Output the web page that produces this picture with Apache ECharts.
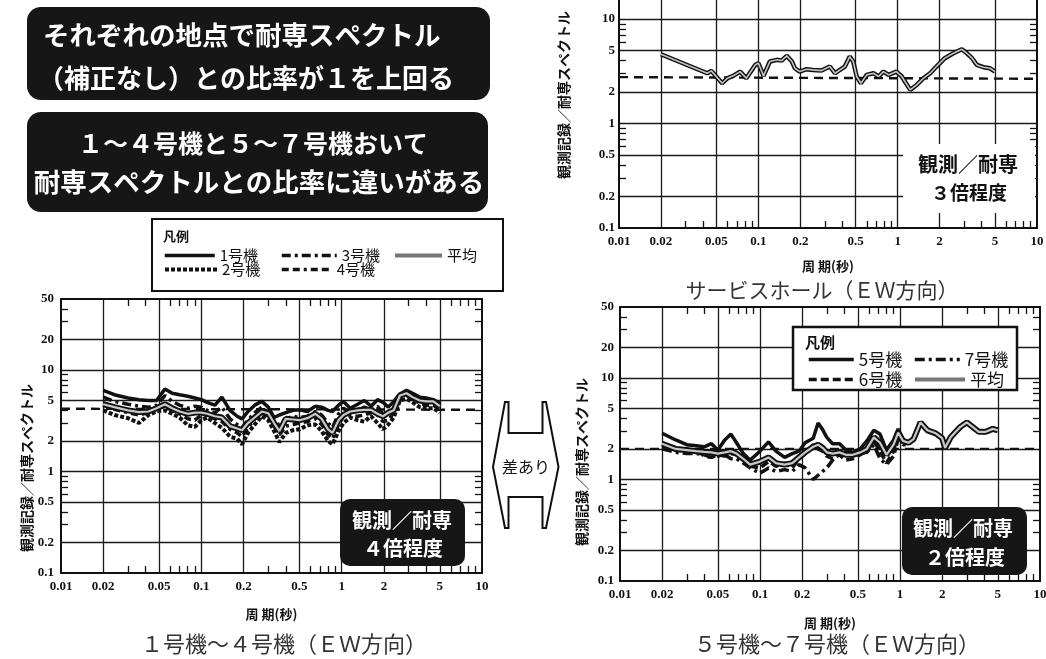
<!DOCTYPE html>
<html><head><meta charset="utf-8">
<script src="https://cdn.jsdelivr.net/npm/echarts@6/dist/echarts.min.js"></script>
<style>html,body{margin:0;padding:0;background:#fff}#c{width:1046px;height:659px}</style>
</head><body><div id="c"></div>
<script>
// ---- tick labels / tick positions ----
const xTickLabels = [0.01, 0.02, 0.05, 0.1, 0.2, 0.5, 1, 2, 5, 10];
const yTickLabels = [0.1, 0.2, 0.5, 1, 2, 5, 10, 20, 50];
const xMinorTicks = [0.03, 0.04, 0.06, 0.07, 0.08, 0.09, 0.3, 0.4, 0.6, 0.7, 0.8, 0.9, 3, 4, 6, 7, 8, 9];
const yMinorTicks = [0.3, 0.4, 0.6, 0.7, 0.8, 0.9, 3, 4, 6, 7, 8, 9, 30, 40];
const xGridValues = [0.02, 0.05, 0.1, 0.2, 0.5, 1, 2, 5];
const yGridValues = [0.2, 0.5, 1, 2, 5, 10, 20];

// ---- サービスホール (EW) ----
const periodsSH = [0.02,0.043,0.046,0.055,0.06,0.066,0.074,0.082,0.095,0.1,0.109,0.121,0.136,0.147,0.16,0.174,0.183,0.198,0.222,0.247,0.284,0.326,0.355,0.418,0.453,0.48,0.508,0.545,0.6,0.67,0.73,0.79,0.86,0.98,1.07,1.23,1.37,1.53,1.71,1.9,2.18,2.51,2.89,3.14,3.42,3.7,4.13,4.6,5.0];
const ratioSH = [4.6,3.03,3.19,2.43,2.71,2.86,3.14,2.71,3.64,3.78,2.86,3.92,4.07,4.0,4.44,3.92,3.38,3.14,3.31,3.26,3.21,3.51,3.03,3.51,4.37,3.92,2.82,2.43,2.92,3.03,2.82,3.14,2.92,3.14,2.82,2.10,2.34,2.71,3.03,3.51,4.22,4.7,5.13,4.7,4.22,3.64,3.46,3.38,3.14];
const refPeriods = [0.01, 10];
const refSH = [2.78, 2.68];

// ---- 1号機〜4号機 (EW) ----
const periodsU14 = [0.02,0.024,0.03,0.036,0.042,0.048,0.055,0.062,0.07,0.08,0.09,0.1,0.11,0.125,0.14,0.16,0.18,0.195,0.215,0.24,0.27,0.3,0.33,0.36,0.4,0.45,0.5,0.57,0.65,0.72,0.8,0.86,0.95,1.03,1.15,1.3,1.45,1.62,1.8,1.97,2.15,2.35,2.6,2.9,3.2,3.6,4.0,4.5,5.0];
const unit1 = [6.3,5.7,5.3,5.1,5.0,5.0,6.5,5.9,5.7,5.5,5.3,5.1,4.8,4.5,5.4,4.0,3.5,3.3,3.9,4.5,4.9,4.3,3.4,3.6,3.8,4.0,4.05,3.9,4.4,4.3,4.0,3.9,4.5,4.9,4.2,4.6,5.0,4.4,5.1,4.8,4.3,4.9,5.8,6.3,5.9,5.4,5.3,5.1,4.7];
const unit2 = [4.0,3.6,3.35,3.0,3.6,3.9,4.0,3.7,3.4,2.85,2.75,3.2,3.4,3.0,2.7,2.2,2.1,1.85,2.4,2.9,3.5,3.2,2.5,1.95,2.4,2.55,2.6,2.85,2.9,2.5,2.0,1.85,2.5,3.0,3.4,3.2,3.1,3.5,3.0,2.6,2.9,3.4,5.0,5.2,4.8,4.3,4.2,4.2,3.8];
const unit3 = [5.4,4.9,4.6,4.4,4.3,4.5,5.6,4.9,4.5,4.2,4.4,4.3,4.0,3.8,4.3,3.3,2.9,2.7,3.2,3.8,4.3,3.8,3.0,2.9,3.3,3.5,3.4,3.5,3.9,3.6,3.0,2.7,3.7,4.2,3.8,4.0,4.3,4.0,4.4,3.7,3.7,4.2,5.5,6.0,5.6,5.0,4.9,4.8,4.4];
const unit4 = [4.5,4.1,3.8,3.6,3.8,4.1,4.4,4.0,3.7,3.3,3.2,3.6,3.6,3.3,3.1,2.6,2.4,2.2,2.7,3.3,3.8,3.5,2.8,2.3,2.8,2.9,3.0,3.1,3.3,2.9,2.3,2.1,2.9,3.5,3.6,3.5,3.6,3.8,3.6,3.1,3.2,3.8,5.2,5.6,5.2,4.7,4.5,4.5,4.1];
const avg14 = [4.6,4.3,4.0,3.85,3.9,4.2,4.6,4.2,3.9,3.7,3.8,3.8,3.7,3.5,3.4,2.8,2.65,2.55,3.0,3.4,3.9,3.75,3.0,2.5,3.3,3.25,3.2,3.35,3.7,3.3,2.6,2.4,3.2,3.6,3.9,4.0,4.05,4.05,3.7,3.5,3.8,4.0,5.6,5.9,5.4,5.0,4.9,4.9,4.4];
const ref14 = [4.15, 4.05];

// ---- 5号機〜7号機 (EW) ----
const periodsU57 = [0.02,0.025,0.03,0.035,0.04,0.045,0.05,0.056,0.062,0.068,0.076,0.085,0.1,0.115,0.13,0.15,0.17,0.19,0.21,0.24,0.26,0.28,0.3,0.33,0.37,0.41,0.46,0.52,0.58,0.65,0.72,0.8,0.9,0.97,1.05,1.15,1.25,1.4,1.57,1.8,2.0,2.1,2.3,2.5,2.7,3.0,3.3,3.65,4.1,4.6,5.0];
const unit5 = [2.85,2.45,2.2,2.15,2.1,2.25,1.95,2.45,2.8,2.3,1.8,1.55,1.9,2.35,1.9,1.65,1.8,1.9,2.3,2.55,3.6,3.1,2.6,2.25,2.25,1.95,1.85,2.0,2.4,3.05,2.8,1.95,2.45,3.15,2.5,2.3];
const unit6 = [2.1,1.95,1.9,1.95,1.7,1.65,1.75,1.7,1.8,1.75,1.55,1.35,1.3,1.5,1.35,1.45,1.3,1.6,1.8,2.2,2.0,1.9,1.7,1.6,1.75,1.55,1.6,1.75,1.9,2.4,1.9,1.45,1.9,2.7,2.3,2.25];
const unit7 = [2.0,1.85,1.8,1.8,1.75,1.65,1.7,1.75,1.6,1.6,1.45,1.3,1.15,1.3,1.2,1.25,1.2,1.4,1.3,1.0,1.1,1.2,1.3,1.55,1.9,1.8,1.7,1.8,1.85,2.2,1.6,1.4,1.7,2.5,2.2,2.2];
const avg57 = [2.25,2.0,1.95,1.9,1.87,1.85,1.8,1.85,1.9,1.8,1.6,1.4,1.5,1.65,1.45,1.4,1.45,1.65,1.85,2.1,2.2,2.05,1.85,1.8,1.85,1.75,1.75,1.85,2.0,2.6,2.3,1.75,2.2,2.9,2.4,2.3,2.5,3.65,3.05,2.85,2.55,2.05,2.6,2.95,3.3,3.65,3.3,2.95,2.95,3.15,3.05];
const ref57 = [2.0, 2.0];

// ---------------------------------------------------------------
const JP = 'Noto Sans CJK JP';
const INK = '#111';
const labelFont = {fontFamily: 'Liberation Serif', fontWeight: 'bold', fontSize: 13, color: INK};

function zip(periods, vals) { return vals.map((v, i) => [periods[i], v]); }

function xAxes(g, nameGap) {
  const base = {type: 'log', logBase: 10, gridIndex: g, min: 0.01, max: 10};
  const line = {show: true, onZero: false, lineStyle: {color: INK, width: 2}};
  const minor = {show: true, inside: true, length: 7, customValues: xMinorTicks, lineStyle: {color: INK, width: 1.3}};
  return [
    Object.assign({}, base, {position: 'bottom', axisLine: line, axisTick: minor,
      axisLabel: Object.assign({show: true, customValues: xTickLabels, formatter: v => String(+(+v).toPrecision(6)), margin: 7}, labelFont),
      splitLine: {show: false}, name: '周 期(秒)', nameLocation: 'middle', nameGap: nameGap,
      nameTextStyle: {fontFamily: JP, fontSize: 13, fontWeight: 'bold', color: INK}}),
    Object.assign({}, base, {position: 'top', axisLine: line, axisTick: minor, axisLabel: {show: false}, splitLine: {show: false}}),
    Object.assign({}, base, {position: 'bottom', axisLine: {show: false}, axisTick: {show: false, customValues: xGridValues},
      axisLabel: {show: false}, splitLine: {show: true, lineStyle: {color: '#1a1a1a', width: 1.3}}})
  ];
}
function yAxes(g, margin) {
  const base = {type: 'log', logBase: 10, gridIndex: g, min: 0.1, max: 50};
  const line = {show: true, onZero: false, lineStyle: {color: INK, width: 2}};
  const minor = {show: true, inside: true, length: 7, customValues: yMinorTicks, lineStyle: {color: INK, width: 1.3}};
  return [
    Object.assign({}, base, {position: 'left', axisLine: line, axisTick: minor,
      axisLabel: Object.assign({show: true, customValues: yTickLabels, formatter: v => String(+(+v).toPrecision(6)), margin: margin}, labelFont),
      splitLine: {show: false}}),
    Object.assign({}, base, {position: 'right', axisLine: line, axisTick: minor, axisLabel: {show: false}, splitLine: {show: false}}),
    Object.assign({}, base, {position: 'left', axisLine: {show: false}, axisTick: {show: false, customValues: yGridValues},
      axisLabel: {show: false}, splitLine: {show: true, lineStyle: {color: '#1a1a1a', width: 1.3}}})
  ];
}
function line(name, g, data, style, z) {
  return {type: 'line', name: name, xAxisIndex: g * 3, yAxisIndex: g * 3, data: data, symbol: 'none',
    showSymbol: false, lineStyle: Object.assign({color: INK, width: 2.5}, style), z: z, silent: true,
    animation: false, clip: true, emphasis: {disabled: true}};
}
function legendItem(name, left, top, w, fs, extra) {
  return {show: true, data: [extra ? Object.assign({name: name}, extra) : name], left: left, top: top,
    orient: 'horizontal', itemWidth: w, itemHeight: 14, padding: 0, selectedMode: false, z: 120,
    lineStyle: {width: 'inherit'}, itemStyle: {opacity: 0},
    textStyle: {fontFamily: JP, fontSize: fs, color: INK}};
}
function txt(text, x, y, fs, opts) {
  return Object.assign({type: 'text', x: x, y: y, z: 130, silent: true,
    style: Object.assign({text: text, fontFamily: JP, fontSize: fs, fill: INK, align: 'center', verticalAlign: 'middle'}, (opts && opts.style) || {})},
    opts && opts.rotation ? {rotation: opts.rotation} : {});
}

const avgLegend = {lineStyle: {color: '#777', width: 4, type: 'solid'}};

const option = {
  animation: false,
  backgroundColor: '#fff',
  grid: [
    {left: 619, top: -54, width: 418, height: 282, outerBoundsMode: 'none', containLabel: false},
    {left: 61, top: 299, width: 421, height: 274, outerBoundsMode: 'none', containLabel: false},
    {left: 620, top: 307, width: 420, height: 274, outerBoundsMode: 'none', containLabel: false}
  ],
  xAxis: [].concat(xAxes(0, 32), xAxes(1, 35), xAxes(2, 36)),
  yAxis: [].concat(yAxes(0, 4), yAxes(1, 7), yAxes(2, 6)),
  legend: [
    legendItem('1号機', 163, 248, 50, 15),
    legendItem('3号機', 280, 248, 55, 15),
    legendItem('平均', 393, 248, 47, 15, avgLegend),
    legendItem('2号機', 163, 262, 52, 15),
    legendItem('4号機', 280, 262, 50, 15),
    legendItem('5号機', 807, 351, 45, 17),
    legendItem('7号機', 913, 351, 45, 17),
    legendItem('6号機', 807, 371, 45, 17),
    legendItem('平均', 913, 371, 50, 17, avgLegend)
  ],
  series: [
    // サービスホール
    line('耐専比SH', 0, zip(refPeriods, refSH), {type: [9, 6], width: 2.4}, 2),
    line('SH', 0, zip(periodsSH, ratioSH), {width: 4.5}, 4),
    line('SH平均', 0, zip(periodsSH, ratioSH), {color: '#c4c4c4', width: 1.6}, 5),
    // 1〜4号機
    line('耐専比14', 1, zip(refPeriods, ref14), {type: [9, 6], width: 2.4}, 2),
    line('1号機', 1, zip(periodsU14, unit1), {width: 3.5}, 3),
    line('2号機', 1, zip(periodsU14, unit2), {type: [4, 2], width: 4}, 3),
    line('3号機', 1, zip(periodsU14, unit3), {type: [9, 4, 3, 4], width: 3.5}, 3),
    line('4号機', 1, zip(periodsU14, unit4), {type: [7, 4, 7, 4, 3, 4], width: 3.5}, 3),
    line('平均', 1, zip(periodsU14, avg14), {width: 6}, 4),
    line('平均', 1, zip(periodsU14, avg14), {color: '#c8c8c8', width: 2.2}, 5),
    // 5〜7号機
    line('耐専比57', 2, zip(refPeriods, ref57), {type: [9, 6], width: 2.4}, 2),
    line('5号機', 2, zip(periodsU57, unit5), {width: 3.5}, 3),
    line('6号機', 2, zip(periodsU57, unit6), {type: [8, 4], width: 3.5}, 3),
    line('7号機', 2, zip(periodsU57, unit7), {type: [10, 4, 3, 4], width: 3.5}, 3),
    line('平均', 2, zip(periodsU57, avg57), {width: 6}, 4),
    line('平均', 2, zip(periodsU57, avg57), {color: '#c8c8c8', width: 2.2}, 5)
  ],
  graphic: {elements: [
    // headline boxes
    {type: 'rect', z: 100, silent: true, shape: {x: 27, y: 7, width: 463, height: 93, r: 14}, style: {fill: '#161616'}},
    txt('それぞれの地点で耐専スペクトル', 43, 35, 26.5, {style: {fill: '#fff', fontWeight: 'bold', align: 'left'}}),
    txt('（補正なし）との比率が１を上回る', 38, 78, 26, {style: {fill: '#fff', fontWeight: 'bold', align: 'left'}}),
    {type: 'rect', z: 100, silent: true, shape: {x: 27, y: 112, width: 461, height: 100, r: 14}, style: {fill: '#161616'}},
    txt('１～４号機と５～７号機おいて', 253, 143, 25, {style: {fill: '#fff', fontWeight: 'bold'}}),
    txt('耐専スペクトルとの比率に違いがある', 259, 182, 26.5, {style: {fill: '#fff', fontWeight: 'bold'}}),
    // legend frame (left)
    {type: 'rect', z: 100, silent: true, shape: {x: 152, y: 219, width: 351, height: 72}, style: {fill: '#fff', stroke: INK, lineWidth: 2}},
    txt('凡例', 163, 236, 13, {style: {align: 'left', fontWeight: 'bold'}}),
    // legend frame (right)
    {type: 'rect', z: 100, silent: true, shape: {x: 793, y: 327, width: 224, height: 63}, style: {fill: '#fff', stroke: INK, lineWidth: 2.5}},
    txt('凡例', 805, 342, 15, {style: {align: 'left', fontWeight: 'bold'}}),
    // annotation (top)
    {type: 'rect', z: 100, silent: true, shape: {x: 903, y: 144, width: 132, height: 69}, style: {fill: '#fff'}},
    txt('観測／耐専', 968, 164, 20, {style: {fontWeight: 'bold'}}),
    txt('３倍程度', 969, 193, 19, {style: {fontWeight: 'bold'}}),
    // annotation (bottom-left)
    {type: 'rect', z: 100, silent: true, shape: {x: 340, y: 499, width: 125, height: 67, r: 10}, style: {fill: '#161616'}},
    txt('観測／耐専', 402, 520, 20, {style: {fill: '#fff', fontWeight: 'bold'}}),
    txt('４倍程度', 403, 548, 20, {style: {fill: '#fff', fontWeight: 'bold'}}),
    // annotation (bottom-right)
    {type: 'rect', z: 100, silent: true, shape: {x: 902, y: 507, width: 125, height: 68, r: 10}, style: {fill: '#161616'}},
    txt('観測／耐専', 963, 528, 20, {style: {fill: '#fff', fontWeight: 'bold'}}),
    txt('２倍程度', 965, 557, 20, {style: {fill: '#fff', fontWeight: 'bold'}}),
    // double arrow
    {type: 'polygon', z: 100, silent: true, shape: {points: [[505, 402], [493, 467], [505, 528], [508.5, 528], [508.5, 497], [542.5, 497], [542.5, 528], [546, 528], [558.5, 467], [546, 402], [542.5, 402], [542.5, 433], [508.5, 433], [508.5, 402]]},
      style: {fill: '#fff', stroke: INK, lineWidth: 2, lineJoin: 'miter'}},
    txt('差あり', 526, 467, 16),
    // titles
    txt('サービスホール（ＥＷ方向）', 822, 290, 21, {style: {fill: '#333'}}),
    txt('１号機～４号機（ＥＷ方向）', 284, 644, 22, {style: {fill: '#333'}}),
    txt('５号機～７号機（ＥＷ方向）', 837, 644, 22, {style: {fill: '#333'}}),
    // y-axis names
    txt('観測記録／耐専スペクトル', 564, 95, 14, {rotation: Math.PI / 2, style: {fontWeight: 'bold'}}),
    txt('観測記録／耐専スペクトル', 27, 468, 14, {rotation: Math.PI / 2, style: {fontWeight: 'bold'}}),
    txt('観測記録／耐専スペクトル', 582, 462, 14, {rotation: Math.PI / 2, style: {fontWeight: 'bold'}})
  ]}
};

const chart = echarts.init(document.getElementById('c'), null, {renderer: 'canvas'});
chart.setOption(option);
</script>
</body></html>
